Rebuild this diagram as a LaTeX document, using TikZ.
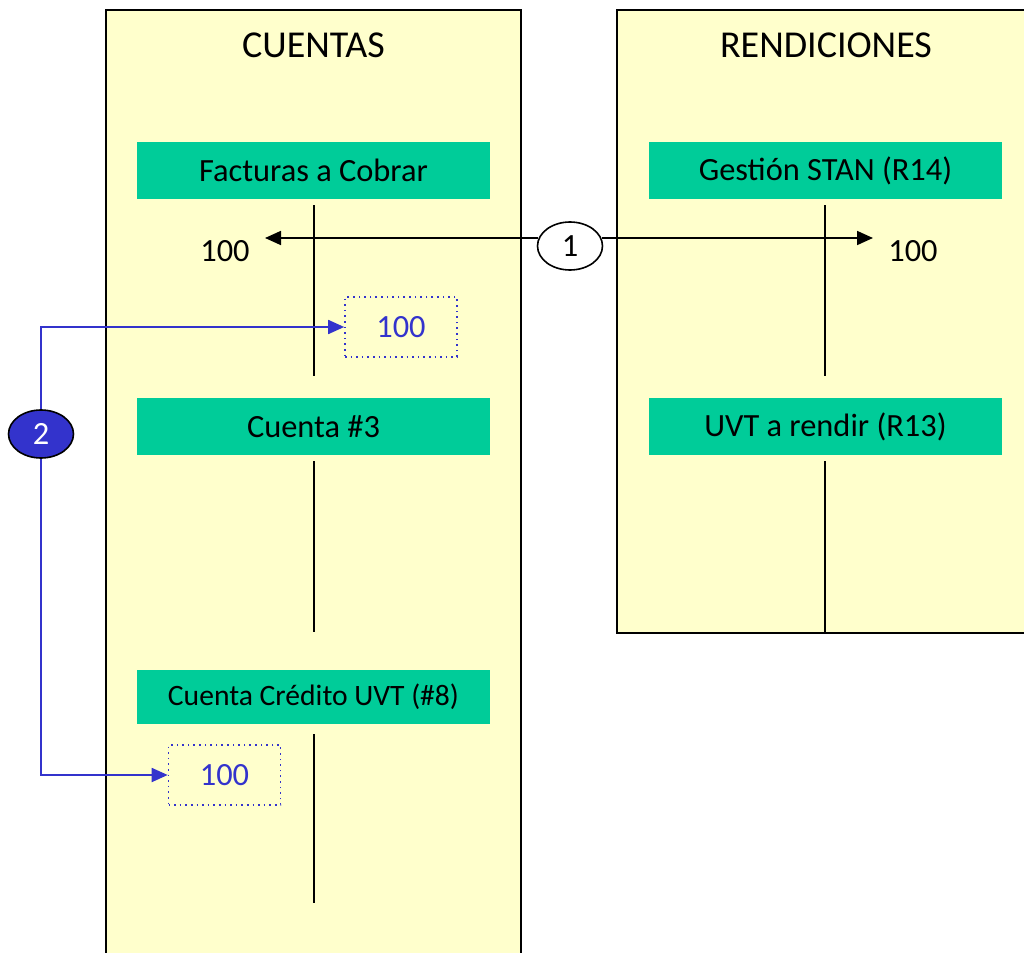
\documentclass[tikz,border=0pt]{standalone}
\usepackage{fontspec}
\setmainfont{Carlito}
\usetikzlibrary{arrows.meta,shapes.geometric}
\definecolor{panelfill}{HTML}{FFFFCC}
\definecolor{acctgreen}{HTML}{00CC99}
\definecolor{flowblue}{HTML}{3333CC}
\begin{document}
\begin{tikzpicture}[x=0.5pt,y=-0.5pt,
  panel/.style={draw=black,line width=1pt,fill=panelfill},
  paneltitle/.style={font=\fontsize{19}{21}\selectfont,anchor=center,inner sep=0pt},
  acct/.style={fill=acctgreen,draw=none,minimum width=176.5pt,minimum height=28.5pt,inner sep=0pt,font=\fontsize{16.2}{18}\selectfont},
  tline/.style={line width=1pt,black},
  amount/.style={font=\fontsize{16.2}{18}\selectfont,inner sep=0pt},
  dotbox/.style={draw=flowblue,dotted,line width=0.8pt,minimum width=56pt,minimum height=30pt,inner sep=0pt,text=flowblue,font=\fontsize{16.2}{18}\selectfont},
  stepoval/.style={ellipse,draw=black,line width=0.8pt,minimum width=32.5pt,minimum height=24pt,inner sep=0pt,font=\fontsize{16.2}{18}\selectfont},
  flow/.style={-{Triangle[length=8pt,width=7pt]},line width=0.9pt},
]
\useasboundingbox (0,0) rectangle (1024,953);
\begin{scope}
\clip (0,0) rectangle (1024,953);
\node[panel,minimum width=207.5pt,minimum height=485pt,inner sep=0pt] (cpanel) at (313.5,495) {};
\node[panel,minimum width=211.5pt,minimum height=311.5pt,inner sep=0pt] (rpanel) at (828.5,321.5) {};
\end{scope}
\node[paneltitle] (ctitle) at (313.5,45) {CUENTAS};
\node[paneltitle] (rtitle) at (826,45) {RENDICIONES};
% account headers
\node[acct] (fac) at (313.5,170.5) {Facturas a Cobrar};
\node[acct] (gest) at (825.5,170.5) {Gestión STAN (R14)};
\node[acct] (c3) at (313.5,426.5) {Cuenta \#3};
\node[acct] (uvt) at (825.5,426.5) {UVT a rendir (R13)};
\node[acct,minimum height=27pt,font=\fontsize{14.8}{17}\selectfont] (c8) at (313.5,697) {Cuenta Crédito UVT (\#8)};
% T lines
\coordinate (facT) at (314,205); \coordinate (facB) at (314,376);
\coordinate (gestT) at (825,205); \coordinate (gestB) at (825,376);
\coordinate (c3T) at (314,461); \coordinate (c3B) at (314,632);
\coordinate (uvtT) at (825,461); \coordinate (uvtB) at (825,632);
\coordinate (c8T) at (314,734); \coordinate (c8B) at (314,903);
\draw[tline] (facT) -- (facB);
\draw[tline] (gestT) -- (gestB);
\draw[tline] (c3T) -- (c3B);
\draw[tline] (uvtT) -- (uvtB);
\draw[tline] (c8T) -- (c8B);
% step 1
\node[stepoval,fill=white] (s1) at (570,246) {1};
\coordinate (s1l) at (538,238);
\coordinate (s1r) at (602,238);
\coordinate (la) at (265,238);
\coordinate (ra) at (873,238);
\draw[flow,black] (s1l) -- (la);
\draw[flow,black] (s1r) -- (ra);
\node[amount] (a1l) at (225,251) {100};
\node[amount] (a1r) at (913,251) {100};
% step 2
\node[dotbox] (b1) at (401,327) {100};
\node[dotbox] (b2) at (224.5,775) {100};
\node[stepoval,fill=flowblue,text=white] (s2) at (41,434) {2};
\draw[flow,flowblue] (s2.north) |- (b1.west);
\draw[flow,flowblue] (s2.south) |- (b2.west);
\end{tikzpicture}
\end{document}
